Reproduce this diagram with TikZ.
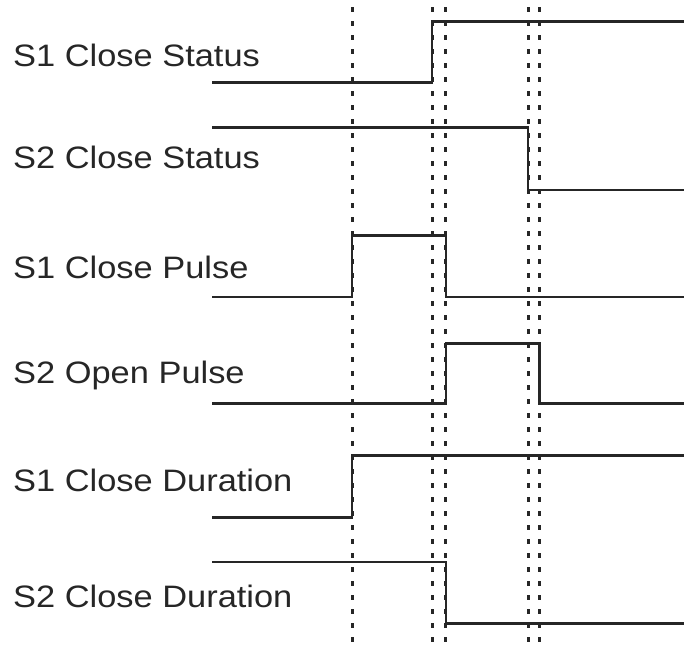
\documentclass[tikz,border=0pt]{standalone}
\usepackage{fontspec}
\setmainfont{Liberation Sans}
\newcommand{\sigtext}[1]{\scalebox{1.11}[1]{#1}}
\begin{document}
\begin{tikzpicture}[x=1pt,y=-1pt,
  siglabel/.style={anchor=base west,inner sep=0pt,font=\fontsize{31}{31}\selectfont,text=black!85},
  signal/.style={line width=2.4pt,black!85,line join=miter},
  guide/.style={line width=3pt,black!85,dash pattern=on 4.5pt off 9.5pt}]
\useasboundingbox (0,0) rectangle (684,648);
% guide lines
\foreach \n/\x in {a/352,b/432,c/445.7,d/528,e/539.3}{
  \coordinate (\n top) at (\x,7);
  \coordinate (\n bot) at (\x,648);
  \draw[guide] (\n top) -- (\n bot);
}
% labels
\node[siglabel] (l1) at (13,66.7) {\sigtext{S1 Close Status}};
\node[siglabel] (l2) at (13,168.3) {\sigtext{S2 Close Status}};
\node[siglabel] (l3) at (13,278.3) {\sigtext{S1 Close Pulse}};
\node[siglabel] (l4) at (13,383.3) {\sigtext{S2 Open Pulse}};
\node[siglabel] (l5) at (13,491.7) {\sigtext{S1 Close Duration}};
\node[siglabel] (l6) at (13,607.3) {\sigtext{S2 Close Duration}};
% signals
\draw[signal] (212,82.5) -- (432,82.5) -- (432,21.5) -- (684,21.5);
\draw[signal] (212,127.3) -- (528,127.3) -- (528,190) -- (684,190);
\draw[signal] (212,296.7) -- (352,296.7) -- (352,235.3) -- (445.7,235.3) -- (445.7,296.7) -- (684,296.7);
\draw[signal] (212,403.3) -- (445.7,403.3) -- (445.7,343.3) -- (539.3,343.3) -- (539.3,403.3) -- (684,403.3);
\draw[signal] (212,517.3) -- (352,517.3) -- (352,455.3) -- (684,455.3);
\draw[signal] (212,562) -- (445.7,562) -- (445.7,623.3) -- (684,623.3);
\end{tikzpicture}
\end{document}
